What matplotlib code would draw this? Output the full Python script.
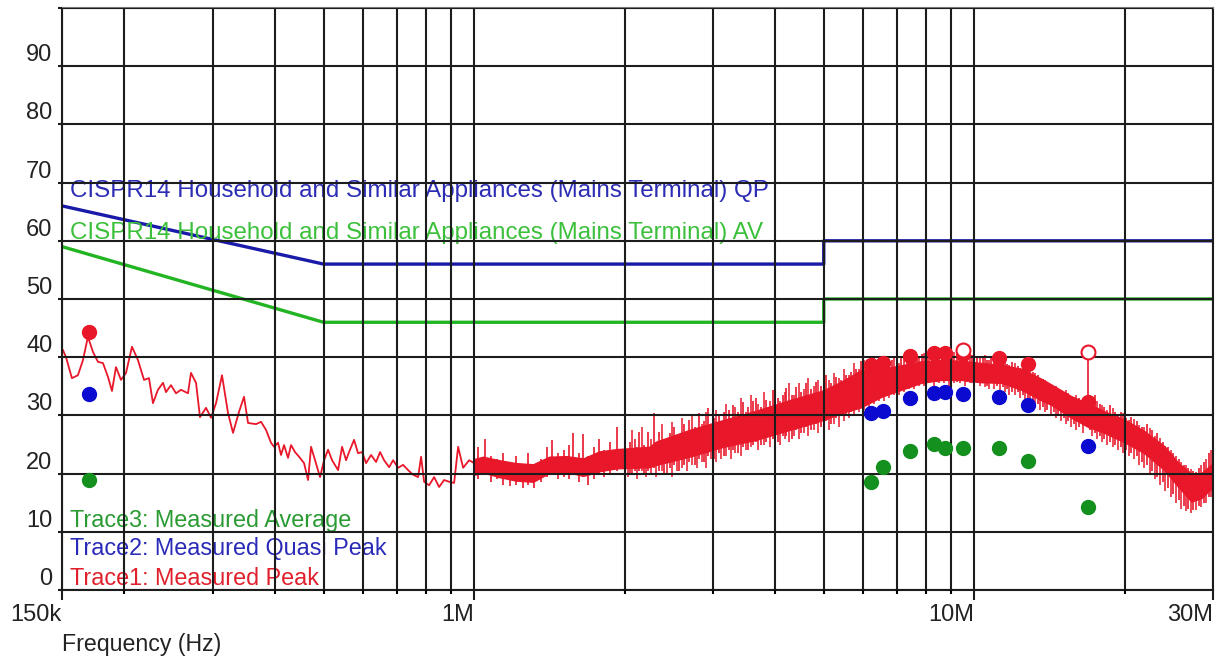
import numpy as np
import matplotlib
matplotlib.use("Agg")
import matplotlib.pyplot as plt
from matplotlib.ticker import FixedLocator, NullFormatter

plt.rcParams['font.family'] = ['Liberation Sans', 'DejaVu Sans']

# CISPR14 limits (Hz, dBuV)
limit_f = [150e3, 500e3, 5e6, 5e6, 30e6]
qp_limit = [66, 56, 56, 60, 60]
av_limit = [59, 46, 46, 50, 50]

# Trace1 peak, 150 kHz - 1 MHz (MHz, dBuV)
peak_lo_f = [0.1507, 0.1528, 0.1570, 0.1614, 0.1652, 0.1690, 0.1730, 0.1770, 0.1811, 0.1854,
             0.1888, 0.1923, 0.1968, 0.2014, 0.2070, 0.2128, 0.2188, 0.2239, 0.2280, 0.2333,
             0.2388, 0.2421, 0.2477, 0.2535, 0.2594, 0.2679, 0.2716, 0.2780, 0.2831, 0.2911,
             0.2979, 0.3048, 0.3133, 0.3221, 0.3296, 0.3388, 0.3467, 0.3532, 0.3664, 0.3750,
             0.3837, 0.3926, 0.3981, 0.4055, 0.4111, 0.4169, 0.4246, 0.4305, 0.4385, 0.4467,
             0.4571, 0.4656, 0.4721, 0.4808, 0.4920, 0.5012, 0.5105, 0.5200, 0.5346, 0.5445,
             0.5546, 0.5623, 0.5754, 0.5861, 0.5970, 0.6081, 0.6223, 0.6368, 0.6486, 0.6607,
             0.6761, 0.6887, 0.7047, 0.7211, 0.7379, 0.7551, 0.7727, 0.7834, 0.7943, 0.8128,
             0.8318, 0.8511, 0.8710, 0.8913, 0.9120, 0.9290, 0.9506, 0.9772, 1.0]
peak_lo = [41.2, 40.0, 36.4, 36.9, 39.5, 43.5, 40.9, 39.2, 39.0, 36.6,
           34.2, 38.3, 36.1, 37.3, 41.8, 39.5, 36.1, 36.4, 32.1, 34.4,
           35.6, 34.0, 35.2, 33.8, 34.4, 33.8, 37.3, 35.6, 29.7, 31.3,
           29.6, 32.1, 36.9, 30.4, 27.0, 30.6, 33.2, 28.7, 28.5, 28.9,
           27.5, 25.3, 24.6, 25.3, 23.2, 24.9, 22.7, 24.9, 23.7, 22.9,
           21.8, 18.9, 24.6, 22.3, 19.4, 22.3, 24.1, 22.3, 20.6, 24.6,
           22.3, 23.7, 25.8, 23.5, 23.7, 21.8, 23.2, 22.0, 23.7, 22.3,
           21.1, 22.3, 21.0, 21.5, 20.6, 19.8, 19.4, 22.9, 18.6, 18.0,
           19.4, 17.7, 18.9, 18.6, 18.4, 24.6, 21.0, 22.3, 21.8]

# Trace1 peak, 1 - 30 MHz: dense band, lower / upper edge
band_f = [1.000, 1.042, 1.122, 1.213, 1.312, 1.413, 1.528, 1.652, 1.778, 1.923,
          2.080, 2.239, 2.312, 2.692, 3.148, 3.664, 4.266, 4.989, 5.420, 5.943,
          6.516, 7.145, 7.834, 8.590, 9.419, 10.33, 11.32, 12.42, 13.61, 14.26,
          15.63, 16.90, 18.20, 19.95, 21.88, 23.99, 25.59, 27.16, 28.44, 30.00]
band_low = [19.8, 20.2, 19.4, 18.8, 18.6, 20.1, 20.3, 19.6, 20.4, 20.9,
            21.0, 21.1, 21.5, 22.9, 24.6, 25.8, 27.5, 29.2, 30.4, 31.4,
            33.2, 34.4, 35.6, 36.1, 36.1, 35.7, 35.6, 34.4, 32.6, 31.8,
            29.6, 28.0, 27.0, 25.4, 23.5, 20.6, 17.7, 15.2, 15.8, 17.7]
band_high = [22.5, 22.9, 22.3, 21.8, 21.6, 22.9, 23.0, 22.6, 23.8, 24.2,
             24.4, 24.6, 25.5, 27.5, 29.2, 30.8, 32.6, 34.3, 35.8, 37.8,
             38.0, 38.6, 39.3, 39.5, 39.4, 39.0, 38.7, 38.0, 36.3, 35.3,
             33.3, 32.0, 30.7, 29.3, 27.3, 24.7, 21.8, 20.0, 20.1, 21.8]

# hairy spikes of the dense band (MHz, bottom, top)
spike_f = [1.02, 1.05, 1.08, 1.11, 1.14, 1.18, 1.21, 1.25, 1.28, 1.32,
           1.36, 1.40, 1.43, 1.47, 1.51, 1.55, 1.58, 1.62, 1.65, 1.69,
           1.74, 1.78, 1.82, 1.87, 1.93, 2.00, 2.05, 2.10, 2.14, 2.19,
           2.23, 2.29, 2.34, 2.40, 2.46, 2.51, 2.57, 2.63, 2.69, 2.76,
           2.82, 2.88, 2.94, 3.01, 3.09, 3.16, 3.23, 3.30, 3.37, 3.45,
           3.53, 3.61, 3.66, 3.75, 3.84, 3.96, 4.05, 4.14, 4.21, 4.31,
           4.41, 4.51, 4.61, 4.72, 4.83, 4.94, 5.06, 5.18, 5.30, 5.42,
           5.55, 5.68, 5.81, 5.94, 6.08, 6.22, 6.37, 6.52, 6.67, 6.83,
           6.99, 7.15, 7.32, 7.49, 7.67, 7.85, 8.03, 8.22, 8.41, 8.61,
           8.81, 9.02, 9.23, 9.45, 9.67, 9.89, 10.1, 10.4, 10.6, 10.8,
           11.1, 11.4, 11.6, 11.9, 12.2, 12.5, 12.8, 13.1, 13.4, 13.7,
           14.0, 14.4, 14.7, 15.1, 15.4, 15.8, 16.2, 16.85, 17.0, 17.4,
           17.8, 18.2, 18.7, 19.1, 19.6, 20.1, 20.6, 21.1, 21.6, 22.1,
           22.7, 23.2, 23.8, 24.4, 25.0, 25.6, 26.2, 26.8, 27.4, 28.1,
           28.8, 29.4]
spike_bot = [19.0, 20.0, 18.5, 19.0, 18.0, 17.8, 18.0, 17.5, 18.0, 17.5,
             18.5, 19.5, 20.0, 19.0, 19.5, 19.0, 20.0, 18.5, 19.5, 18.0,
             19.0, 20.0, 19.5, 20.0, 20.5, 20.5, 20.0, 20.5, 20.5, 20.0,
             20.5, 21.0, 20.5, 20.0, 21.0, 21.5, 20.5, 21.5, 22.0, 21.5,
             22.5, 22.0, 23.0, 22.5, 23.5, 23.0, 24.0, 24.0, 23.5, 24.5,
             24.0, 25.0, 25.5, 25.0, 25.5, 26.0, 25.5, 26.5, 26.5, 26.0,
             27.5, 27.0, 28.0, 27.5, 28.5, 28.0, 29.0, 28.5, 29.5, 30.0,
             30.0, 30.5, 31.0, 31.5, 32.0, 32.5, 33.0, 33.0, 33.5, 34.0,
             34.0, 34.5, 35.0, 35.0, 35.5, 35.5, 35.5, 36.0, 35.8, 36.0,
             36.0, 36.0, 35.8, 36.0, 35.8, 35.5, 35.5, 35.5, 35.0, 35.5,
             35.0, 34.8, 34.5, 34.0, 34.0, 33.5, 33.0, 32.5, 32.0, 31.5,
             31.0, 30.5, 30.0, 29.5, 29.0, 28.5, 28.0, 30.0, 27.5, 27.0,
             26.5, 26.0, 25.5, 25.0, 24.5, 24.0, 23.5, 23.0, 22.0, 21.5,
             20.5, 19.5, 18.5, 17.5, 16.5, 15.5, 14.5, 14.0, 13.8, 14.5,
             15.0, 16.0]
spike_top = [24.5, 26.0, 23.0, 22.5, 23.5, 22.0, 23.0, 21.5, 23.5, 21.0,
             22.5, 24.5, 25.8, 23.5, 24.0, 25.0, 27.0, 23.5, 26.8, 23.0,
             24.5, 26.0, 24.0, 25.5, 28.0, 29.7, 25.5, 26.0, 27.2, 25.0,
             27.2, 30.4, 27.2, 26.0, 27.0, 28.0, 26.5, 28.5, 29.2, 28.0,
             30.4, 29.0, 31.3, 29.5, 30.1, 30.5, 31.0, 31.8, 30.5, 32.3,
             31.5, 32.5, 33.0, 31.5, 32.6, 34.4, 33.0, 33.5, 34.7, 33.5,
             34.9, 34.0, 35.6, 34.5, 35.7, 35.0, 36.9, 35.5, 36.6, 36.0,
             36.9, 37.5, 38.0, 39.3, 38.5, 39.6, 39.0, 39.8, 39.0, 39.6,
             39.2, 40.0, 39.5, 40.2, 40.0, 40.6, 40.2, 40.5, 40.0, 40.6,
             40.2, 40.6, 40.0, 40.5, 40.0, 40.3, 39.8, 40.0, 39.5, 40.0,
             39.3, 39.5, 38.8, 39.2, 38.5, 38.6, 37.8, 37.5, 37.0, 36.2,
             35.8, 35.0, 34.6, 34.0, 33.8, 33.0, 33.0, 40.9, 32.5, 33.5,
             32.0, 31.5, 31.8, 30.5, 30.5, 29.5, 29.8, 29.0, 28.0, 28.5,
             27.5, 27.0, 25.5, 24.5, 23.5, 22.5, 21.5, 21.0, 20.5, 21.0,
             22.0, 23.5]

# second, interleaved set of spikes, 2 - 30 MHz
spike2_f = [2.03, 2.07, 2.12, 2.17, 2.21, 2.26, 2.31, 2.37, 2.43, 2.49,
            2.54, 2.60, 2.66, 2.72, 2.79, 2.85, 2.91, 2.97, 3.05, 3.12,
            3.19, 3.26, 3.33, 3.41, 3.49, 3.57, 3.70, 3.79, 3.90, 4.00,
            4.09, 4.18, 4.26, 4.36, 4.46, 4.56, 4.66, 4.77, 4.88, 5.00,
            5.12, 5.24, 5.36, 5.48, 5.61, 5.74, 5.87, 6.01, 6.15, 6.30,
            6.44, 6.60, 6.75, 6.91, 7.07, 7.23, 7.40, 7.58, 7.76, 7.94,
            8.12, 8.31, 8.51, 8.71, 8.91, 9.12, 9.34, 9.56, 9.78, 10.0,
            10.25, 10.5, 10.7, 10.95, 11.25, 11.5, 11.75, 12.05, 12.35, 12.65,
            12.95, 13.25, 13.55, 13.85, 14.2, 14.55, 14.9, 15.25, 15.6, 16.0,
            16.5, 17.2, 17.6, 18.0, 18.45, 18.9, 19.35, 19.85, 20.35, 20.85,
            21.35, 21.85, 22.4, 22.95, 23.5, 24.1, 24.7, 25.3, 25.9, 26.5,
            27.1, 27.75, 28.45, 29.1, 29.7]
spike2_bot = [19.5, 20.0, 19.0, 20.5, 19.5, 20.0, 19.5, 20.5, 20.0, 19.5,
              20.5, 21.0, 20.5, 21.5, 21.0, 22.0, 21.0, 22.5, 22.0, 22.5,
              23.0, 22.5, 23.5, 23.0, 24.0, 24.5, 24.0, 25.0, 24.5, 25.5,
              25.0, 26.0, 25.5, 26.5, 26.0, 27.0, 26.5, 27.5, 27.0, 28.0,
              27.5, 28.5, 28.0, 29.0, 29.5, 30.0, 30.5, 31.0, 31.5, 32.0,
              32.5, 32.5, 33.0, 33.5, 33.5, 34.0, 34.5, 34.5, 35.0, 35.0,
              35.5, 35.0, 35.5, 35.5, 35.0, 35.5, 35.5, 35.0, 35.5, 35.0,
              35.0, 34.8, 34.5, 34.5, 34.0, 34.0, 33.5, 33.5, 33.0, 32.5,
              32.0, 31.5, 31.0, 30.5, 30.0, 29.5, 29.0, 28.5, 28.0, 27.5,
              27.0, 26.5, 26.0, 25.5, 25.0, 24.5, 24.0, 23.5, 23.0, 22.5,
              21.5, 21.0, 20.0, 19.0, 18.0, 17.0, 16.0, 15.0, 14.0, 13.5,
              13.2, 13.8, 14.2, 15.0, 16.0]
spike2_top = [24.0, 27.5, 24.5, 28.0, 24.5, 26.0, 25.5, 28.5, 25.0, 28.8,
              26.0, 29.5, 27.0, 30.0, 27.5, 28.5, 30.5, 28.0, 31.0, 29.0,
              32.0, 29.5, 31.5, 33.0, 30.5, 33.5, 32.0, 34.0, 32.5, 35.0,
              32.5, 34.0, 35.5, 33.5, 35.5, 34.5, 36.5, 35.0, 36.0, 37.5,
              36.0, 37.2, 36.5, 38.0, 37.0, 39.0, 38.0, 39.5, 38.8, 39.8,
              38.5, 40.0, 39.2, 40.2, 39.0, 40.3, 39.6, 40.5, 39.8, 40.8,
              40.0, 40.7, 40.1, 40.8, 40.3, 40.9, 40.2, 40.7, 40.0, 40.5,
              39.8, 40.3, 39.6, 40.1, 39.2, 39.7, 38.7, 39.0, 38.2, 38.4,
              37.5, 37.3, 36.5, 36.0, 35.3, 35.0, 34.2, 34.3, 33.3, 33.5,
              32.8, 32.7, 32.5, 31.8, 31.0, 31.2, 30.2, 30.4, 29.2, 29.4,
              28.3, 28.0, 27.8, 26.5, 26.2, 24.8, 24.0, 23.0, 22.0, 21.5,
              20.8, 20.2, 21.5, 22.5, 24.0]

# final measurement points (MHz)
peak_pt_f = [0.170, 6.22, 6.58, 7.45, 8.32, 8.75, 9.5, 11.2, 12.8, 16.85]
peak_pt = [44.3, 38.7, 39.0, 40.2, 40.7, 40.7, 40.5, 39.9, 38.8, 32.3]
peak_open_f = [9.5, 16.85]
peak_open = [41.2, 40.9]
meas_f = [0.170, 6.22, 6.58, 7.45, 8.32, 8.75, 9.5, 11.2, 12.8, 16.85]
qp_pt = [33.7, 30.4, 30.8, 33.0, 33.8, 34.0, 33.7, 33.2, 31.8, 24.7]
av_pt = [18.9, 18.6, 21.1, 23.9, 25.1, 24.4, 24.4, 24.4, 22.2, 14.3]

RED = '#e8172a'
BLUE = '#0a0ad0'
GREEN = '#14901e'

fig = plt.figure(figsize=(12.23, 6.56), dpi=100)
ax = fig.add_axes([62 / 1223, 66 / 656, 1151 / 1223, 582 / 656])
ax.set_xscale('log')

mhz = 1e6
ax.plot(limit_f, qp_limit, color='#1a1aa8', lw=2.4, zorder=2)
ax.plot(limit_f, av_limit, color='#22b422', lw=2.4, zorder=2)

ax.plot(np.array(peak_lo_f) * mhz, peak_lo, color=RED, lw=1.3, zorder=2)
ax.fill_between(np.array(band_f) * mhz, band_low, band_high, color=RED, lw=1.0, zorder=2)
ax.vlines(np.array(spike_f) * mhz, spike_bot, spike_top, color=RED, lw=1.2, zorder=2)
ax.vlines(np.array(spike2_f) * mhz, spike2_bot, spike2_top, color=RED, lw=1.1, zorder=2)

ax.plot(np.array(peak_pt_f) * mhz, peak_pt, 'o', color=RED, ms=10, zorder=3)
ax.plot(np.array(peak_open_f) * mhz, peak_open, 'o', mfc='white', mec=RED, mew=1.5, ms=10, zorder=3)
ax.plot(np.array(meas_f) * mhz, qp_pt, 'o', color=BLUE, ms=10, zorder=3)
ax.plot(np.array(meas_f) * mhz, av_pt, 'o', color=GREEN, ms=10, zorder=3)

# labels written on the plot
fs_lim = 17.4
fs_tr = 16.8
ax.text(0.007, 0.686, 'CISPR14 Household and Similar Appliances (Mains Terminal) QP',
        transform=ax.transAxes, color='#2c2cb4', fontsize=fs_lim, va='center', zorder=2)
ax.text(0.007, 0.613, 'CISPR14 Household and Similar Appliances (Mains Terminal) AV',
        transform=ax.transAxes, color='#3cc03c', fontsize=fs_lim, va='center', zorder=2)
ax.text(0.007, 0.120, 'Trace3: Measured Average', transform=ax.transAxes,
        color='#2a9a32', fontsize=fs_tr, va='center', zorder=2)
ax.text(0.007, 0.0705, 'Trace2: Measured Quasi Peak', transform=ax.transAxes,
        color='#2a2ab8', fontsize=fs_tr, va='center', zorder=2)
ax.text(0.007, 0.0206, 'Trace1: Measured Peak', transform=ax.transAxes,
        color='#e0202c', fontsize=fs_tr, va='center', zorder=2)

ax.set_xlim(150e3, 30e6)
ax.set_ylim(0, 100)

ax.xaxis.set_major_locator(FixedLocator([150e3, 1e6, 10e6, 30e6]))
ax.set_xticks([150e3, 1e6, 10e6, 30e6], ['150k', '1M', '10M', '30M'], ha='right')
minor = [2e5, 3e5, 4e5, 5e5, 6e5, 7e5, 8e5, 9e5,
         2e6, 3e6, 4e6, 5e6, 6e6, 7e6, 8e6, 9e6, 2e7]
ax.xaxis.set_minor_locator(FixedLocator(minor))
ax.xaxis.set_minor_formatter(NullFormatter())

yt = list(range(0, 101, 10))
ax.set_yticks(yt, [str(v) for v in yt[:-1]] + [''], va='bottom')

ax.set_axisbelow(False)
ax.grid(True, which='both', color='#1c1c1c', lw=1.5)
for sp in ax.spines.values():
    sp.set_color('#1c1c1c')
    sp.set_linewidth(1.5)
ax.spines['top'].set_color('#777777')

ax.tick_params(axis='x', which='major', length=7, width=1.5, pad=3, labelsize=17, colors='#1c1c1c')
ax.tick_params(axis='x', which='minor', length=3, width=1.5)
ax.tick_params(axis='y', length=3, width=1.5, pad=4, labelsize=17, colors='#1c1c1c')
for lbl in ax.get_xticklabels() + ax.get_yticklabels():
    lbl.set_color('#222222')

ax.set_xlabel('Frequency (Hz)', loc='left', fontsize=16.7, labelpad=5, color='#222222')

fig.savefig('out.png', dpi=100)
